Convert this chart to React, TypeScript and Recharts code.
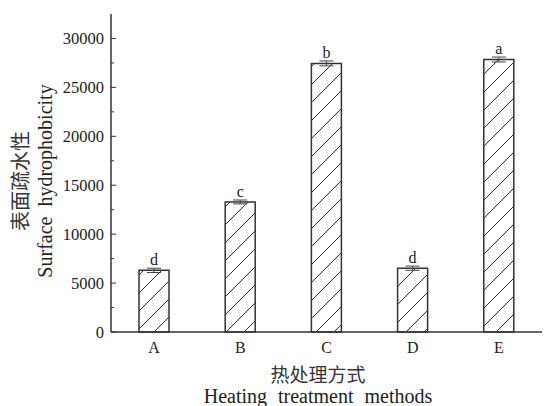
import React from 'react';
import { BarChart, Bar, XAxis, YAxis, ErrorBar, LabelList } from 'recharts';

const methods = ['A', 'B', 'C', 'D', 'E'];
const hydrophobicity = [6300, 13290, 27450, 6520, 27850];
const errors = [220, 200, 250, 220, 250];
const letters = ['d', 'c', 'b', 'd', 'a'];
const yTicks = [0, 2500, 5000, 7500, 10000, 12500, 15000, 17500, 20000, 22500, 25000, 27500, 30000];

const data = methods.map((m, i) => ({
  method: m,
  value: hydrophobicity[i],
  err: errors[i],
  sig: letters[i],
}));

const serif = '"Liberation Serif", "DejaVu Serif", serif';
const cjk = '"Noto Sans CJK SC", sans-serif';

const YTick = (props: any) => {
  const { x, y, payload } = props;
  const axisX = x + 7;
  const major = payload.value % 5000 === 0;
  return (
    <g>
      <line x1={axisX} x2={axisX + (major ? 5 : 3)} y1={y} y2={y} stroke="#333" strokeWidth={1} />
      {major && (
        <text x={x} y={y} dy="0.35em" textAnchor="end" fontFamily={serif} fontSize={16.5} fill="#222">
          {payload.value}
        </text>
      )}
    </g>
  );
};

const YLabel = () => {
  const cy = 181;
  return (
    <g>
      <text x={19} y={cy} transform={`rotate(-90 19 ${cy})`} textAnchor="middle" dominantBaseline="central"
        fontFamily={cjk} fontSize={20} fill="#333">
        表面疏水性
      </text>
      <text x={45} y={cy} transform={`rotate(-90 45 ${cy})`} textAnchor="middle" dominantBaseline="central"
        fontFamily={serif} fontSize={20} fill="#222" wordSpacing={5}>
        Surface hydrophobicity
      </text>
    </g>
  );
};

const XLabel = () => (
  <g>
    <text x={318} y={373} textAnchor="middle" dominantBaseline="central" fontFamily={cjk} fontSize={19} fill="#333">
      热处理方式
    </text>
    <text x={318} y={396} textAnchor="middle" dominantBaseline="central" fontFamily={serif} fontSize={20}
      fill="#222" wordSpacing={6}>
      Heating treatment methods
    </text>
  </g>
);

export default function App() {
  return (
    <div style={{ position: 'absolute', left: 0, top: 0, background: '#fff' }}>
      <BarChart width={548} height={406} data={data} margin={{ top: 14, right: 6, left: 0, bottom: 0 }}
        barCategoryGap={0}>
        <defs>
          <pattern id="hatch" patternUnits="userSpaceOnUse" width={18} height={18}>
            <line x1={0} y1={18} x2={18} y2={0} stroke="#333" strokeWidth={1} />
            <line x1={-2} y1={2} x2={2} y2={-2} stroke="#333" strokeWidth={1} />
            <line x1={16} y1={20} x2={20} y2={16} stroke="#333" strokeWidth={1} />
          </pattern>
        </defs>
        <XAxis dataKey="method" height={74} tickLine={false} axisLine={{ stroke: '#333', strokeWidth: 1.5 }}
          tickMargin={4} tick={{ fontFamily: serif, fontSize: 16, fill: '#222' }} label={<XLabel />} />
        <YAxis width={111} domain={[0, 32500]} ticks={yTicks} interval={0} tickLine={false} tickSize={0}
          tickMargin={7} axisLine={{ stroke: '#333', strokeWidth: 1.5 }} tick={<YTick />} label={<YLabel />} />
        <Bar dataKey="value" barSize={30} fill="url(#hatch)" stroke="#333" strokeWidth={1.5} isAnimationActive={false}>
          <ErrorBar dataKey="err" width={7} stroke="#444" strokeWidth={1} />
          <LabelList dataKey="sig" position="top" offset={5} fontFamily={serif} fontSize={16} fill="#222" />
        </Bar>
      </BarChart>
    </div>
  );
}
